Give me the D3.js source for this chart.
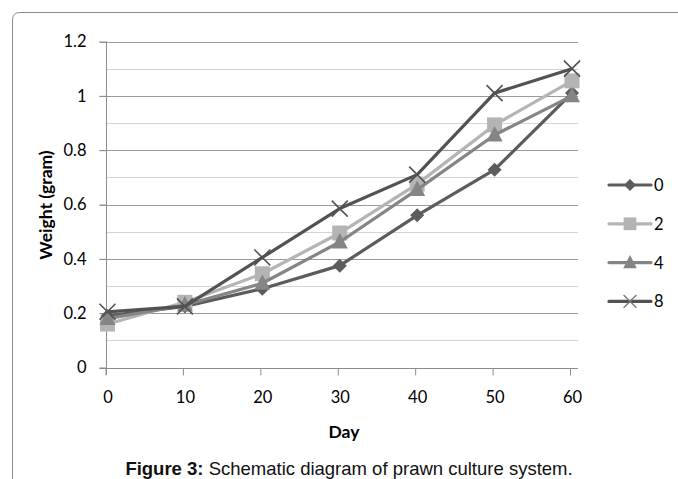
<!DOCTYPE html>
<html>
<head>
<meta charset="utf-8">
<script src="https://cdn.jsdelivr.net/npm/d3@7"></script>
<style>
  body { margin: 0; background: #fff; }
  svg { display: block; }
</style>
</head>
<body>
<svg id="chart" width="678" height="479"></svg>
<script>
// days on the x axis
var days = [0, 10, 20, 30, 40, 50, 60];
// series names (legend labels)
var seriesNames = ['0', '2', '4', '8'];
// weight (gram) per day, one list per series
var s0 = [0.19, 0.225, 0.29, 0.375, 0.56, 0.728, 1.01];
var s2 = [0.16, 0.24, 0.345, 0.495, 0.675, 0.893, 1.055];
var s4 = [0.18, 0.23, 0.31, 0.462, 0.655, 0.856, 1.0];
var s8 = [0.205, 0.225, 0.405, 0.585, 0.71, 1.01, 1.10];
var yTicks = [0, 0.2, 0.4, 0.6, 0.8, 1, 1.2];
var yMinor = [0.1, 0.3, 0.5, 0.7, 0.9, 1.1];

var svg = d3.select('#chart');
var font = 'Lato, "DejaVu Sans", sans-serif';

// outer frame, rounded top-left, cut off at the right and bottom
svg.append('path')
    .attr('d', 'M12.5,479 L12.5,20 Q12.5,12.5 20,12.5 L678,12.5')
    .attr('fill', 'none')
    .attr('stroke', '#8c8c8c')
    .attr('stroke-width', 1);

var x = d3.scaleLinear().domain([0, 60]).range([107.5, 572]);
var y = d3.scaleLinear().domain([0, 1.2]).range([367.5, 41.5]);
var plotL = 106.5, plotR = 578;

// minor gridlines
svg.append('g').selectAll('line').data(yMinor).join('line')
    .attr('x1', plotL).attr('x2', plotR)
    .attr('y1', function(d) { return Math.round(y(d)) + 0.5; })
    .attr('y2', function(d) { return Math.round(y(d)) + 0.5; })
    .attr('stroke', '#d4d4d4').attr('stroke-width', 1.2);

// major gridlines
svg.append('g').selectAll('line').data(yTicks.slice(1)).join('line')
    .attr('x1', plotL - 7).attr('x2', plotR)
    .attr('y1', function(d) { return Math.round(y(d)) + 0.5; })
    .attr('y2', function(d) { return Math.round(y(d)) + 0.5; })
    .attr('stroke', '#9a9a9a').attr('stroke-width', 1);

// y axis
var yAxis = d3.axisLeft(y).tickValues(yTicks).tickSize(7).tickPadding(13)
    .tickFormat(function(d) { return d3.format('')(d); });
var gy = svg.append('g').attr('transform', 'translate(' + plotL + ',0)').call(yAxis);
gy.select('.domain').attr('stroke', '#8c8c8c').attr('d', 'M0,' + y(1.2) + 'V' + (y(0) + 7));
gy.selectAll('.tick line').attr('stroke', '#8c8c8c');
gy.selectAll('text').attr('font-family', font).attr('font-size', 16.5).attr('fill', '#000');

// x axis
var xAxis = d3.axisBottom(x).tickValues(days).tickSize(7).tickPadding(16);
var gx = svg.append('g').attr('transform', 'translate(0,' + (Math.round(y(0)) + 0.5) + ')').call(xAxis);
gx.select('.domain').attr('stroke', '#8c8c8c').attr('d', 'M' + (plotL - 7) + ',0H' + plotR);
gx.selectAll('.tick line').attr('stroke', '#8c8c8c').attr('transform', 'translate(-2,0)');
gx.selectAll('text').attr('font-family', font).attr('font-size', 16.5).attr('fill', '#000');

// axis titles
svg.append('text')
    .attr('transform', 'translate(52,205) rotate(-90)')
    .attr('text-anchor', 'middle')
    .attr('font-family', font).attr('font-weight', 'bold').attr('font-size', 17.5)
    .text('Weight (gram)');
svg.append('text')
    .attr('x', 344).attr('y', 438)
    .attr('text-anchor', 'middle')
    .attr('font-family', font).attr('font-weight', 'bold').attr('font-size', 17.5)
    .text('Day');

// caption
var cap = svg.append('text')
    .attr('x', 349).attr('y', 475)
    .attr('text-anchor', 'middle')
    .attr('font-family', '"Liberation Sans", Arial, sans-serif').attr('font-size', 18.5)
    .attr('fill', '#111');
cap.append('tspan').attr('font-weight', 'bold').text('Figure 3:');
cap.append('tspan').text(' Schematic diagram of prawn culture system.');

// series styles
var series = [
    { name: seriesNames[0], values: s0, color: '#5c5c5c', marker: 'diamond' },
    { name: seriesNames[1], values: s2, color: '#b4b4b4', marker: 'square' },
    { name: seriesNames[2], values: s4, color: '#858585', marker: 'triangle' },
    { name: seriesNames[3], values: s8, color: '#525252', marker: 'cross' }
];

function drawMarker(g, type, color, cx, cy, k) {
    k = k || 1;
    if (type === 'diamond') {
        var r = 7 * k;
        g.append('path').attr('d', 'M' + cx + ',' + (cy - r) + 'L' + (cx + r) + ',' + cy + 'L' + cx + ',' + (cy + r) + 'L' + (cx - r) + ',' + cy + 'Z')
            .attr('fill', color);
    } else if (type === 'square') {
        var h = 7.5 * k;
        g.append('rect').attr('x', cx - h).attr('y', cy - h).attr('width', 2 * h).attr('height', 2 * h)
            .attr('fill', color);
    } else if (type === 'triangle') {
        g.append('path').attr('d', 'M' + cx + ',' + (cy - 9 * k) + 'L' + (cx + 8 * k) + ',' + (cy + 6.5 * k) + 'L' + (cx - 8 * k) + ',' + (cy + 6.5 * k) + 'Z')
            .attr('fill', color);
    } else {
        var c = 8 * k;
        g.append('path').attr('d', 'M' + (cx - c) + ',' + (cy - c) + 'L' + (cx + c) + ',' + (cy + c) + 'M' + (cx + c) + ',' + (cy - c) + 'L' + (cx - c) + ',' + (cy + c))
            .attr('stroke', color).attr('stroke-width', 1.6 * k).attr('fill', 'none');
    }
}

var line = d3.line()
    .x(function(d, i) { return x(days[i]); })
    .y(function(d) { return y(d); });

series.forEach(function(s) {
    var g = svg.append('g');
    g.append('path').datum(s.values)
        .attr('d', line)
        .attr('fill', 'none')
        .attr('stroke', s.color)
        .attr('stroke-width', 3.2)
        .attr('stroke-linejoin', 'round');
    s.values.forEach(function(v, i) {
        drawMarker(g, s.marker, s.color, x(days[i]), y(v));
    });
});

// legend
var legend = svg.append('g');
series.forEach(function(s, i) {
    var ly = 185 + i * 38.8;
    var g = legend.append('g');
    g.append('line').attr('x1', 609).attr('x2', 651).attr('y1', ly).attr('y2', ly)
        .attr('stroke', s.color).attr('stroke-width', 3.2).attr('stroke-linecap', 'round');
    drawMarker(g, s.marker, s.marker === 'cross' ? '#777' : s.color, 630, ly, s.marker === 'cross' ? 0.8 : 0.85);
    g.append('text').attr('x', 654).attr('y', ly + 6)
        .attr('font-family', font).attr('font-size', 16.5)
        .text(s.name);
});
</script>
</body>
</html>
